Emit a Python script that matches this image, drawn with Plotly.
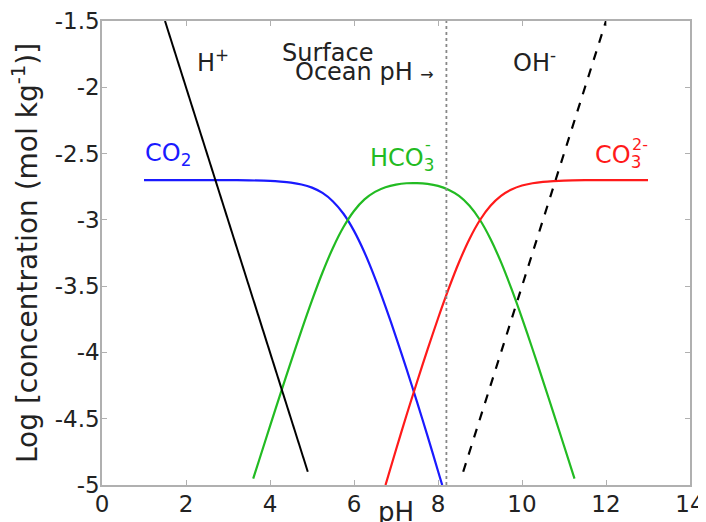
import plotly.graph_objects as go

# Values (pH, log concentration)
co2_ph = [1.0, 2.0, 3.0, 3.5, 4.0, 4.25, 4.5, 4.75, 5.0, 5.25, 5.5, 5.75, 6.0, 6.25, 6.5,
          6.75, 7.0, 7.25, 7.5, 7.75, 8.0, 8.1]
co2_log = [-2.70, -2.70, -2.70, -2.702, -2.706, -2.711, -2.719, -2.733, -2.757, -2.797,
           -2.861, -2.954, -3.083, -3.246, -3.439, -3.654, -3.884, -4.124, -4.373, -4.629,
           -4.894, -5.00]

hco3_ph = [3.6, 3.75, 4.0, 4.25, 4.5, 4.75, 5.0, 5.25, 5.5, 5.75, 6.0, 6.25, 6.5, 6.75,
           7.0, 7.25, 7.5, 7.75, 8.0, 8.25, 8.5, 8.75, 9.0, 9.25, 9.5, 9.75, 10.0, 10.25,
           10.5, 10.75, 11.0, 11.25]
hco3_log = [-4.952, -4.804, -4.556, -4.311, -4.069, -3.833, -3.607, -3.397, -3.210, -3.054,
            -2.933, -2.846, -2.789, -2.754, -2.734, -2.724, -2.723, -2.729, -2.744, -2.773,
            -2.820, -2.894, -3.001, -3.144, -3.319, -3.521, -3.741, -3.974, -4.214, -4.458,
            -4.704, -4.952]

co3_ph = [6.75, 7.0, 7.25, 7.5, 7.75, 8.0, 8.25, 8.5, 8.75, 9.0, 9.25, 9.5, 9.75, 10.0,
          10.25, 10.5, 10.75, 11.0, 11.5, 12.0, 13.0]
co3_log = [-5.00, -4.734, -4.474, -4.223, -3.979, -3.744, -3.523, -3.320, -3.144, -3.001,
           -2.894, -2.819, -2.771, -2.741, -2.724, -2.714, -2.708, -2.704, -2.701, -2.70,
           -2.70]

h_ph = [1.5, 4.9]
h_log = [-1.5, -4.9]

oh_ph = [8.6, 12.0]
oh_log = [-4.9, -1.5]

surface_ph = 8.2

x_ticks = [0, 2, 4, 6, 8, 10, 12, 14]
y_ticks = [-5, -4.5, -4, -3.5, -3, -2.5, -2, -1.5]
y_ticklabels = ["-5", "-4.5", "-4", "-3.5", "-3", "-2.5", "-2", "-1.5"]

FONT = "DejaVu Sans"
BLUE = "#1a1aff"
GREEN = "#22bb22"
RED = "#ff1a1a"
TXT = "#222222"

fig = go.Figure()
fig.add_trace(go.Scatter(x=co2_ph, y=co2_log, mode="lines",
                         line=dict(color=BLUE, width=2.2, shape="spline", smoothing=0.8)))
fig.add_trace(go.Scatter(x=hco3_ph, y=hco3_log, mode="lines",
                         line=dict(color=GREEN, width=2.2, shape="spline", smoothing=0.8)))
fig.add_trace(go.Scatter(x=co3_ph, y=co3_log, mode="lines",
                         line=dict(color=RED, width=2.2, shape="spline", smoothing=0.8)))
fig.add_trace(go.Scatter(x=h_ph, y=h_log, mode="lines",
                         line=dict(color="black", width=2)))
fig.add_trace(go.Scatter(x=oh_ph, y=oh_log, mode="lines",
                         line=dict(color="black", width=2.2, dash="dash")))
fig.add_trace(go.Scatter(x=[surface_ph, surface_ph], y=[-5, -1.5], mode="lines",
                         line=dict(color="#888888", width=1.8, dash="dot")))

AF = 24
SF = 16
ann_font = dict(family=FONT, size=AF, color=TXT)
annotations = [
    dict(x=2.21, y=-1.80, text="H<sup>+</sup>", xanchor="left", font=ann_font),
    dict(x=4.24, y=-1.74, text="Surface", xanchor="left", font=ann_font),
    dict(x=4.55, y=-1.885, text="Ocean pH <span style='font-size:16px'>\u2192</span>",
         xanchor="left", font=ann_font),
    dict(x=9.74, y=-1.80, text="OH<sup>-</sup>", xanchor="left", font=ann_font),
    dict(x=0.98, y=-2.51, text="CO<sub>2</sub>", xanchor="left",
         font=dict(family=FONT, size=AF, color=BLUE)),
    dict(x=6.33, y=-2.545, text="HCO<sub>3</sub>", xanchor="left",
         font=dict(family=FONT, size=AF, color=GREEN)),
    dict(x=7.64, y=-2.435, text="-", xanchor="left",
         font=dict(family=FONT, size=SF, color=GREEN)),
    dict(x=11.69, y=-2.525, text="CO<sub>3</sub>", xanchor="left",
         font=dict(family=FONT, size=AF, color=RED)),
    dict(x=12.56, y=-2.435, text="2-", xanchor="left",
         font=dict(family=FONT, size=SF, color=RED)),
    dict(x=7.0, xref="x", y=0, yref="paper", yanchor="top", yshift=-10,
         text="pH", font=dict(family=FONT, size=26, color=TXT)),
    dict(x=0, xref="paper", xanchor="center", xshift=-77, y=0.5, yref="paper",
         textangle=-90, text="Log [concentration (mol kg<sup>-1</sup>)]",
         font=dict(family=FONT, size=28, color=TXT)),
]
for a in annotations:
    a.setdefault("xref", "x")
    a.setdefault("yref", "y")
    a["showarrow"] = False

# The page body adds an 8px offset, so the figure is sized to fill the rest of the window.
fig.update_layout(
    width=698, height=514,
    margin=dict(l=94, r=16, t=13, b=37),
    paper_bgcolor="white", plot_bgcolor="white",
    showlegend=False,
    font=dict(family=FONT, size=23, color=TXT),
    annotations=annotations,
)
axis_common = dict(showgrid=False, zeroline=False, showline=True, linecolor="#b0b0b0",
                   linewidth=1.5, mirror="ticks", ticks="inside", ticklen=5,
                   tickcolor="#b0b0b0", tickwidth=1, automargin=False,
                   tickfont=dict(family=FONT, size=23, color=TXT))
fig.update_xaxes(range=[0, 14], tickvals=x_ticks, ticklabelstandoff=-2, **axis_common)
fig.update_yaxes(range=[-5, -1.5], tickvals=y_ticks, ticktext=y_ticklabels,
                 ticklabelstandoff=-4, **axis_common)

fig.write_html("out.html")
